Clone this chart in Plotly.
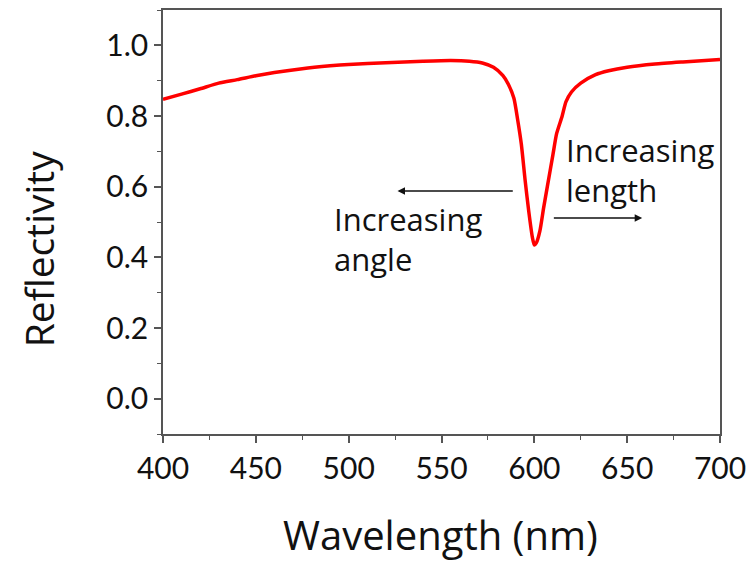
import plotly.graph_objects as go

# Reflectivity spectrum with a resonance dip near 600 nm
wavelength_nm = [400, 410, 420, 430, 440, 450, 460, 475, 490, 500, 520, 540, 555,
                 565, 572, 578, 583, 586, 589, 591, 593, 595, 597, 599, 600, 601,
                 603, 605, 607, 610, 612, 615, 617, 620, 625, 633, 640, 650, 665,
                 680, 700]
reflectivity = [0.847, 0.862, 0.877, 0.893, 0.903, 0.914, 0.923, 0.934, 0.942, 0.946,
                0.951, 0.955, 0.957, 0.955, 0.950, 0.938, 0.915, 0.890, 0.850, 0.790,
                0.720, 0.620, 0.530, 0.455, 0.435, 0.440, 0.475, 0.540, 0.600, 0.690,
                0.750, 0.800, 0.840, 0.868, 0.893, 0.917, 0.928, 0.938, 0.947, 0.953,
                0.960]

x_ticks = [400, 450, 500, 550, 600, 650, 700]
y_ticks = [0.0, 0.2, 0.4, 0.6, 0.8, 1.0]
y_tick_labels = ["0.0", "0.2", "0.4", "0.6", "0.8", "1.0"]

TICK_FONT = "Lato"
TEXT_FONT = "Open Sans"
AXIS_COLOR = "#555555"
INK = "#111111"

fig = go.Figure()
fig.add_trace(go.Scatter(
    x=wavelength_nm, y=reflectivity, mode="lines",
    line=dict(color="#ff0000", width=3.5, shape="spline", smoothing=0.6),
    showlegend=False,
))

axis_common = dict(
    showgrid=False, zeroline=False, showline=True, linecolor=AXIS_COLOR,
    linewidth=1.5, mirror=True, ticks="outside", ticklen=7, tickwidth=1.5,
    tickcolor=AXIS_COLOR, tickfont=dict(family=TICK_FONT, size=30, color=INK),
)

fig.update_xaxes(
    range=[400, 700], tickvals=x_ticks,
    minor=dict(dtick=25, ticks="outside", ticklen=4, tickwidth=1.2, tickcolor=AXIS_COLOR),
    **axis_common,
)
fig.update_yaxes(
    range=[-0.1, 1.1], tickvals=y_ticks, ticktext=y_tick_labels,
    minor=dict(dtick=0.1, tick0=0, ticks="outside", ticklen=4, tickwidth=1.2,
               tickcolor=AXIS_COLOR),
    **axis_common,
)

# Axis titles
fig.add_annotation(x=0.498, y=-0.237, xref="paper", yref="paper",
                   text="Wavelength (nm)", showarrow=False,
                   xanchor="center", yanchor="middle",
                   font=dict(family=TEXT_FONT, size=40, color=INK))
fig.add_annotation(x=-0.222, y=0.4366, xref="paper", yref="paper",
                   text="Reflectivity", showarrow=False, textangle=-90,
                   xanchor="center", yanchor="middle",
                   font=dict(family=TEXT_FONT, size=39, color=INK))

text_font = dict(family=TEXT_FONT, size=31, color=INK)
fig.add_annotation(x=616, y=0.648, xref="x", yref="y", text="Increasing<br>length",
                   showarrow=False, xanchor="left", yanchor="middle", align="left",
                   font=text_font)
fig.add_annotation(x=491, y=0.452, xref="x", yref="y", text="Increasing<br>angle",
                   showarrow=False, xanchor="left", yanchor="middle", align="left",
                   font=text_font)

# Direction arrows for the shift of the dip
fig.add_annotation(x=526.3, y=0.588, ax=589.2, ay=0.588, xref="x", yref="y",
                   axref="x", ayref="y", text="", showarrow=True, arrowhead=2,
                   arrowsize=1, arrowwidth=1.5, arrowcolor=INK)
fig.add_annotation(x=658.1, y=0.511, ax=609.7, ay=0.511, xref="x", yref="y",
                   axref="x", ayref="y", text="", showarrow=True, arrowhead=2,
                   arrowsize=1, arrowwidth=1.5, arrowcolor=INK)

fig.update_layout(
    width=754, height=561,
    margin=dict(l=163, r=33, t=8, b=127),
    plot_bgcolor="white", paper_bgcolor="white",
)

fig.write_html("out.html")
